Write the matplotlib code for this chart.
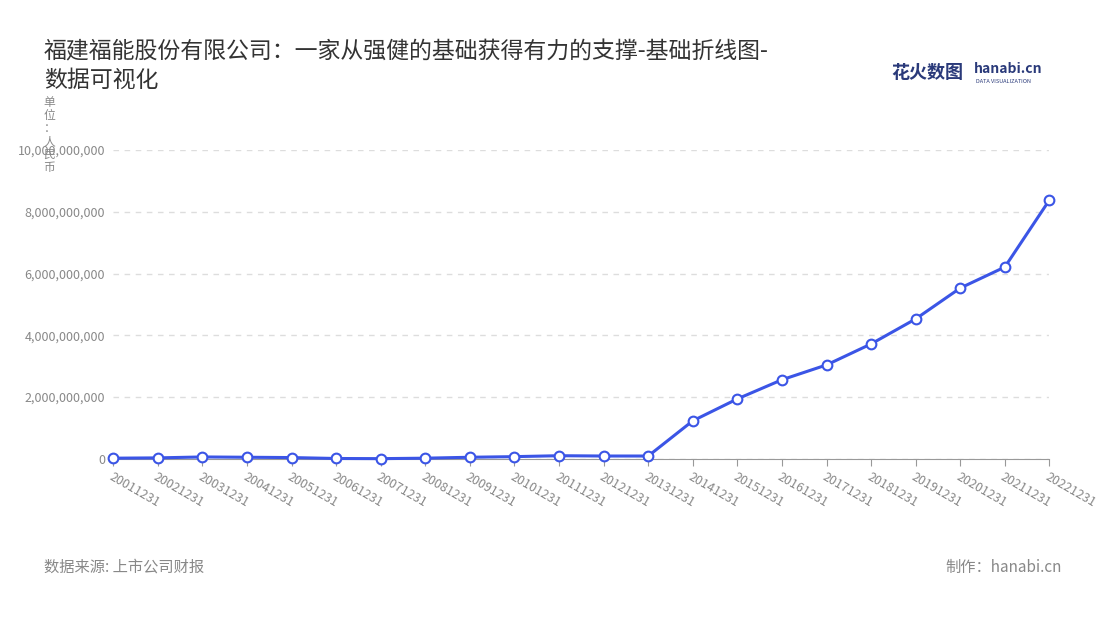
import matplotlib.pyplot as plt
import numpy as np

plt.rcParams['font.family'] = ['Noto Sans CJK SC', 'DejaVu Sans']

years = [str(y) + '1231' for y in range(2001, 2023)]
values = [0.02, 0.03, 0.06, 0.05, 0.04, 0.01, 0.005, 0.02, 0.05, 0.07, 0.10, 0.09, 0.09,
          1.23, 1.94, 2.56, 3.04, 3.72, 4.53, 5.53, 6.21, 8.38]
values = [v * 1e9 for v in values]
yticks = [0, 2e9, 4e9, 6e9, 8e9, 10e9]

fig = plt.figure(figsize=(11, 6.2), dpi=100)
ax = fig.add_axes([0.103, 0.26, 0.851, 0.498])
x = np.arange(len(years))
ax.plot(x, values, color='#3b55e6', lw=2.2, marker='o', ms=7,
        mfc='white', mec='#3b55e6', mew=1.5, zorder=3, clip_on=False)
ax.set_xlim(0, len(years) - 1)
ax.set_ylim(0, 10e9)
ax.set_yticks(yticks)
ax.set_yticklabels([f'{int(v):,}' for v in yticks], fontsize=9, color='#888888')
ax.set_xticks(x)
ax.set_xticklabels(years, rotation=-30, ha='left', rotation_mode='anchor',
                   fontsize=9, color='#888888')
ax.grid(axis='y', ls=(0, (4, 4)), color='#dddddd', lw=1)
for s in ['top', 'right', 'left']:
    ax.spines[s].set_visible(False)
ax.spines['bottom'].set_color('#999999')
ax.tick_params(axis='y', length=0, pad=6)
ax.tick_params(axis='x', color='#999999', length=5)

fig.text(0.04, 0.935, '福建福能股份有限公司：一家从强健的基础获得有力的支撑-基础折线图-\n数据可视化',
         fontsize=16.5, color='#333333', va='top', linespacing=1.3)
fig.text(0.045, 0.845, '单\n位\n：\n人\n民\n币', fontsize=8.5, color='#888888',
         va='top', ha='center', linespacing=1.0)
fig.text(0.81, 0.883, '花火数图', fontsize=13, color='#2a3a7a', fontweight='bold', va='center')
fig.text(0.885, 0.888, 'hanabi.cn', fontsize=10, color='#2a3a7a', fontweight='bold', va='center')
fig.text(0.887, 0.868, 'DATA VISUALIZATION', fontsize=4, color='#2a3a7a', va='center')
fig.text(0.04, 0.085, '数据来源: 上市公司财报', fontsize=11, color='#888888', va='center')
fig.text(0.965, 0.085, '制作：hanabi.cn', fontsize=11, color='#888888', va='center', ha='right')

fig.savefig('out.png')
